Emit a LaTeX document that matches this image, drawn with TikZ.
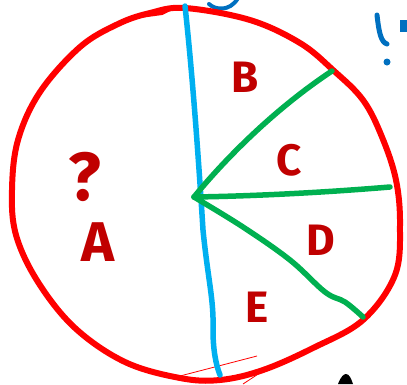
\documentclass[tikz,border=0pt]{standalone}
\usepackage{fontspec}
\newfontfamily\inkfont{Fira Sans}
\usepackage{tikz}
\usetikzlibrary{positioning,calc}
\definecolor{penred}{RGB}{255,0,0}
\definecolor{penblue}{RGB}{0,176,240}
\definecolor{pengreen}{RGB}{0,176,80}
\definecolor{darkred}{RGB}{192,0,0}
\definecolor{deepblue}{RGB}{0,112,192}
\tikzset{
    redpen/.style={
        draw=penred,
        line width=6pt,
        line cap=round,
        line join=round
    },
    bluepen/.style={
        draw=penblue,
        line width=5.5pt,
        line cap=round
    },
    greenpen/.style={
        draw=pengreen,
        line width=5.5pt,
        line cap=round,
        line join=round
    },
    letter/.style={
        text=darkred,
        font=\inkfont\bfseries\fontsize{44}{44}\selectfont,
        inner sep=0pt
    }
}

\begin{document}
\begin{tikzpicture}[x=1pt,y=-1pt]
    \useasboundingbox (0,0) rectangle (407,384);
    % Blue stroke behind the circle
    \draw[draw=deepblue,line width=4pt,line cap=round] (209,4) .. controls (215,10) and (230,12) .. (238,-2);
    % Outer circle
    \draw[redpen] plot[smooth cycle,tension=0.6] coordinates {
        (150,13) (185,8) (250,20) (300,43) (333,70) (363,100) (382,137)
        (396,180) (400,225) (395,275) (363,320) (313,348) (263,370)
        (220,380) (180,378) (125,362) (75,328) (38,282) (16,235)
        (12,190) (18,140) (40,92) (80,47) (118,24)};
    \draw[redpen,line width=4pt] (140,16) -- (162,13) -- (170,9);
    \draw[penred,line width=0.8pt] (180,376) -- (257,356);
    \draw[penred,line width=0.8pt] (243,384) -- (272,365);
    % Dividing line
    \draw[bluepen] (185,6) .. controls (192,70) and (198,150) .. (203,230)
        .. controls (208,280) and (214,300) .. (213,330)
        .. controls (213,350) and (216,365) .. (220,375);
    % Spokes from the hub
    \coordinate (hub) at (194,197);
    \draw[greenpen] (hub) .. controls (220,165) and (270,112) .. (332,71);
    \draw[greenpen] (hub) .. controls (260,196) and (330,192) .. (390,187);
    \draw[greenpen] plot[smooth,tension=0.6] coordinates {
        (hub) (243,227) (290,260) (325,292) (345,302) (363,317)};
    % Region labels
    \node[letter] (B) at (245,77) {B};
    \node[letter] (C) at (289,160) {C};
    \node[letter] (D) at (321,240) {D};
    \node[letter] (E) at (257,307) {E};
    \node[letter,font=\inkfont\bfseries\fontsize{56}{56}\selectfont] (A) at (98,242) {A};
    \node[letter,font=\inkfont\bfseries\fontsize{68}{68}\selectfont] (Q) at (85,177) {?};
    % Marks at the edges
    \draw[draw=deepblue,line width=5pt,line cap=round] (377,15) .. controls (379,33) and (381,42) .. (387,44);
    \fill[deepblue] (387,62) circle (3.5);
    \draw[draw=deepblue,line width=8pt] (404,20) -- (404,32);
    \fill[black] (338,384) .. controls (341,376) and (344,374) .. (346,374)
        .. controls (349,374) and (351,378) .. (353,384) -- cycle;
\end{tikzpicture}
\end{document}
